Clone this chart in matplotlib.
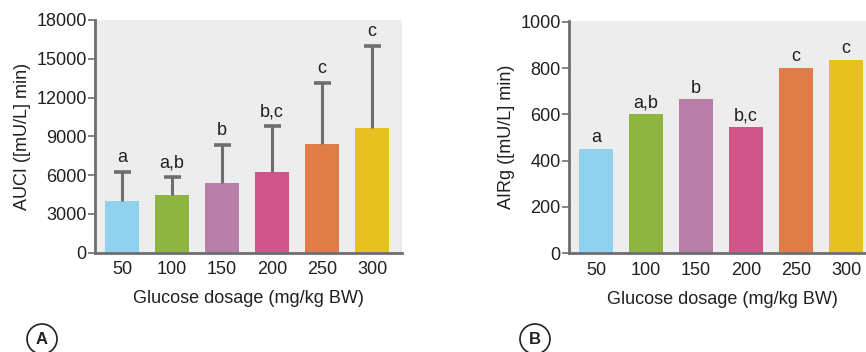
import matplotlib.pyplot as plt
import numpy as np
from matplotlib.patches import Ellipse

plt.rcParams['font.family'] = ['Liberation Sans', 'DejaVu Sans']

# data
dosage = ['50', '100', '150', '200', '250', '300']
auci_mean = [4000, 4450, 5400, 6250, 8400, 9650]
auci_err = [2250, 1400, 2950, 3550, 4700, 6350]
auci_letters = ['a', 'a,b', 'b', 'b,c', 'c', 'c']
airg_mean = [450, 600, 665, 545, 800, 835]
airg_letters = ['a', 'a,b', 'b', 'b,c', 'c', 'c']

colors = ['#8fd1ee', '#8db53f', '#b77fa8', '#d0568a', '#df7c48', '#e6c11f']
grey = '#6d6e71'
txt = '#231f20'
fs = 13

fig = plt.figure(figsize=(8.66, 3.52), dpi=100)


def style_axes(ax, ymax, yticks):
    ax.set_facecolor('#ededed')
    for s in ['top', 'right']:
        ax.spines[s].set_visible(False)
    for s in ['left', 'bottom']:
        ax.spines[s].set_color(grey)
        ax.spines[s].set_linewidth(2)
    ax.set_xlim(-0.54, 5.6)
    ax.set_ylim(0, ymax)
    ax.set_yticks(yticks)
    ax.set_xticks(np.arange(len(dosage)))
    ax.set_xticklabels(dosage)
    ax.tick_params(axis='y', length=5, width=1.2, color=grey, labelsize=fs,
                   labelcolor=txt, pad=1)
    ax.tick_params(axis='x', length=0, labelsize=fs, labelcolor=txt, pad=6)
    ax.set_xlabel('Glucose dosage (mg/kg BW)', fontsize=fs, color=txt, labelpad=9)


# panel A: bars with upper error bars only
ax1 = fig.add_axes([95 / 866, 99.5 / 352, 307 / 866, 232.5 / 352])
x = np.arange(len(dosage))
top = np.array(auci_mean) + np.array(auci_err)
ax1.bar(x, auci_mean, width=0.68, color=colors, zorder=2)
ax1.vlines(x, auci_mean, top, color=grey, linewidth=2.2, zorder=3)
ax1.hlines(top, x - 0.17, x + 0.17, color=grey, linewidth=2.6, zorder=3)
for xi, t, lab in zip(x, top, auci_letters):
    ax1.text(xi, t + 450, lab, ha='center', va='bottom', fontsize=fs, color=txt)
style_axes(ax1, 18000, [0, 3000, 6000, 9000, 12000, 15000, 18000])
ax1.set_ylabel('AUCI ([mU/L] min)', fontsize=fs, color=txt, labelpad=4)

# panel B
ax2 = fig.add_axes([569 / 866, 98.7 / 352, 307 / 866, 232.5 / 352])
ax2.bar(x, airg_mean, width=0.68, color=colors, zorder=2)
for xi, m, lab in zip(x, airg_mean, airg_letters):
    ax2.text(xi, m + 12, lab, ha='center', va='bottom', fontsize=fs, color=txt)
style_axes(ax2, 1004, [0, 200, 400, 600, 800, 1000])
ax2.set_ylabel('AIRg ([mU/L] min)', fontsize=fs, color=txt, labelpad=4)

# panel labels in circles
for cx, lab in [(42, 'A'), (535, 'B')]:
    fig.patches.append(Ellipse((cx / 866, (352 - 339) / 352), 30 / 866, 30 / 352,
                               transform=fig.transFigure, fill=False,
                               edgecolor=txt, linewidth=1.2))
    fig.text(cx / 866, (352 - 339) / 352, lab, ha='center', va='center',
             fontsize=12, fontweight='bold', color=txt)

fig.savefig('out.png', dpi=100)
